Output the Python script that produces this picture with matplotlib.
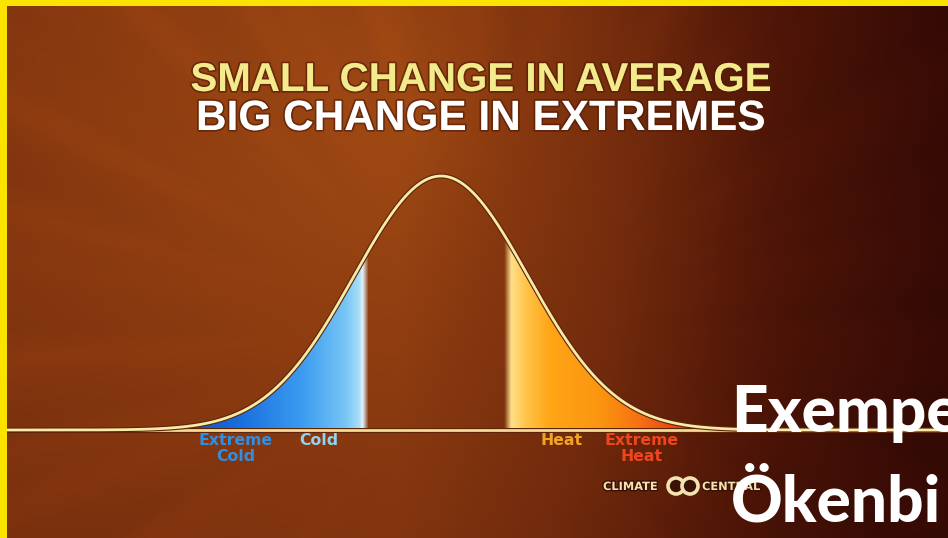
import numpy as np
import matplotlib
matplotlib.use("Agg")
import matplotlib.pyplot as plt
import matplotlib.patheffects as pe
from matplotlib.patches import Polygon, Rectangle, Circle
from matplotlib.transforms import IdentityTransform

# the bell curve, in standard deviations
mean = 0.0
sd = 1.0
cold_edge = -0.91
heat_edge = 0.77

label_names = ["Extreme\nCold", "Cold", "Heat", "Extreme\nHeat"]
label_pos = [-2.36, -1.40, 1.39, 2.31]
label_colors = ["#2f8fe6", "#92d2ef", "#f2a524", "#f0461e"]

title_lines = ["SMALL CHANGE IN AVERAGE", "BIG CHANGE IN EXTREMES"]
title_colors = ["#f3ea8c", "#ffffff"]
overlay_lines = ["Exempe", "Ökenbi"]

W, H = 948, 538
X0, SX = 441.0, 87.0          # pixel of the mean, pixels per sd
BASE, PEAK = 430.0, 254.0     # baseline pixel row, peak height in px


def pdf(z):
    return np.exp(-0.5 * ((z - mean) / sd) ** 2) / (sd * np.sqrt(2 * np.pi))


KY = PEAK / pdf(mean)


def py(row):
    # pixel row -> data y
    return (BASE - row) / KY


def fy(row):
    return 1 - row / H


def hex_rgb(c):
    c = c.lstrip("#")
    return [int(c[i:i + 2], 16) / 255 for i in (0, 2, 4)]


def gradient(z, stops, colors, alphas):
    rgb = np.array([hex_rgb(c) for c in colors])
    img = np.zeros((1, len(z), 4))
    for k in range(3):
        img[0, :, k] = np.interp(z, stops, rgb[:, k])
    img[0, :, 3] = np.interp(z, stops, alphas)
    return img


fig = plt.figure(figsize=(W / 100, H / 100), dpi=100)

# ---- background: warm glow upper left, dark maroon to the right
yy, xx = np.mgrid[0:H, 0:W].astype(float)
hfac = np.interp(xx, [0, 400, 600, 780, 948], [1, 1, 0.8, 0.55, 0.42])
r = np.hypot((xx - 420) / 550, (yy - 110) / 450)
vfac = np.interp(r, [0, 0.5, 1.2], [1, 0.9, 0.76])
b = hfac * vfac
b_stops = [0.2, 0.35, 0.5, 0.7, 0.85, 1.0]
b_cols = np.array([[0.15, 0.03, 0.015], [0.22, 0.045, 0.02], [0.32, 0.09, 0.03],
                   [0.45, 0.17, 0.05], [0.53, 0.22, 0.06], [0.63, 0.29, 0.08]])
bg_img = np.zeros((H, W, 3))
for k in range(3):
    bg_img[..., k] = np.interp(b, b_stops, b_cols[:, k])
ang = np.arctan2(yy - 330, xx - 470)
rr = np.hypot(yy - 330, xx - 470)
ray = 0.5 * np.sin(ang * 23) + 0.3 * np.sin(ang * 37 + 1.0) + 0.2 * np.sin(ang * 61 + 2.0)
bg_img *= (1 + 0.045 * ray * np.clip((rr - 150) / 300, 0, 1))[..., None]
bg_img = np.clip(bg_img, 0, 1)

bg = fig.add_axes([0, 0, 1, 1], zorder=0)
bg.imshow(bg_img, extent=(0, W, H, 0), aspect="auto")
bg.set_xlim(0, W)
bg.set_ylim(H, 0)
bg.axis("off")

# ---- curve axes
ax = fig.add_axes([0, 0, 1, 1], zorder=1)
ax.patch.set_alpha(0)
ax.set_xlim(-X0 / SX, (W - X0) / SX)
ax.set_ylim(py(H), py(0))
ax.axis("off")

z = np.linspace(-6, 7, 1200)
y = pdf(z)

# cold side
zc = np.linspace(-4.5, cold_edge + 0.07, 600)
cold_img = gradient(zc,
                    [-4.5, -3.0, -2.3, -1.6, -1.1, cold_edge - 0.04, cold_edge, cold_edge + 0.07],
                    ["#0a4fc0", "#0a4fc0", "#1a70de", "#3c9cf0", "#78c6f6", "#a8def8", "#e2f5ff", "#e2f5ff"],
                    [1, 1, 1, 1, 1, 1, 1, 0])
im = ax.imshow(cold_img, extent=(zc[0], zc[-1], 0, pdf(mean)), aspect="auto",
               interpolation="bilinear", zorder=2)
clip = Polygon(np.column_stack([np.r_[zc, zc[::-1]], np.r_[pdf(zc), np.zeros_like(zc)]]),
               transform=ax.transData, facecolor="none", edgecolor="none")
ax.add_patch(clip)
im.set_clip_path(clip)

# heat side
zh = np.linspace(heat_edge - 0.05, 4.5, 600)
heat_img = gradient(zh,
                    [heat_edge - 0.05, heat_edge + 0.03, 0.97, 1.25, 1.83, 2.29, 2.63, 2.98, 4.5],
                    ["#ffe08a", "#ffe08a", "#ffc44a", "#ffa516", "#fb9510", "#f57012", "#ea4a12", "#e0300e", "#e0300e"],
                    [0, 1, 1, 1, 1, 1, 1, 1, 1])
im2 = ax.imshow(heat_img, extent=(zh[0], zh[-1], 0, pdf(mean)), aspect="auto",
                interpolation="bilinear", zorder=2)
clip2 = Polygon(np.column_stack([np.r_[zh, zh[::-1]], np.r_[pdf(zh), np.zeros_like(zh)]]),
                transform=ax.transData, facecolor="none", edgecolor="none")
ax.add_patch(clip2)
im2.set_clip_path(clip2)

edge = [pe.Stroke(linewidth=3.6, foreground="#5e2408"), pe.Normal()]
ax.axhline(0, color="#f2dc96", lw=2.0, zorder=3, path_effects=edge)
ax.plot(z, y, color="#f8eaa8", lw=2.0, zorder=4, path_effects=edge)

for name, pos, col in zip(label_names, label_pos, label_colors):
    ax.text(pos, py(433), name, color=col, ha="center", va="top",
            fontsize=11.3, fontweight="bold", family="DejaVu Sans",
            linespacing=1.12, zorder=5)

# ---- title
shadow = [pe.Stroke(linewidth=2.5, foreground=(0.3, 0.1, 0.02, 0.6)), pe.Normal()]
for line, col, base, size in zip(title_lines, title_colors, [91, 130], [29, 30.5]):
    fig.text(481 / W, fy(base), line, color=col, ha="center", va="baseline",
             fontsize=size, fontweight="bold",
             family=["Liberation Sans", "DejaVu Sans"], path_effects=shadow)

# ---- logo
logo_col = "#f3e3b0"
logo_fx = [pe.Stroke(linewidth=2, foreground="#3a1005"), pe.Normal()]
fig.text(603 / W, fy(490), "CLIMATE", color=logo_col, fontsize=8.2, fontweight="bold",
         family="DejaVu Sans", va="baseline", path_effects=logo_fx, zorder=3)
fig.text(702 / W, fy(490), "CENTRAL", color=logo_col, fontsize=8.2, fontweight="bold",
         family="DejaVu Sans", va="baseline", path_effects=logo_fx, zorder=3)
for cx in [676, 690]:
    fig.add_artist(Circle((cx, H - 486), 8, transform=IdentityTransform(),
                          facecolor="#3a1206", edgecolor=logo_col, lw=2.6, zorder=3))

# ---- overlay text
for line, base in zip(overlay_lines, [432, 522]):
    fig.text(731 / W, fy(base), line, color="white", fontsize=46, fontweight="black",
             family=["Lato", "DejaVu Sans"], va="baseline", zorder=6)

# ---- yellow frame
fig.add_artist(Rectangle((0, 0), 7 / W, 1, transform=fig.transFigure,
                         facecolor="#fbe300", edgecolor="none", zorder=7))
fig.add_artist(Rectangle((0, 1 - 6 / H), 1, 6 / H, transform=fig.transFigure,
                         facecolor="#fbe300", edgecolor="none", zorder=7))

fig.savefig("out.png", dpi=100)
